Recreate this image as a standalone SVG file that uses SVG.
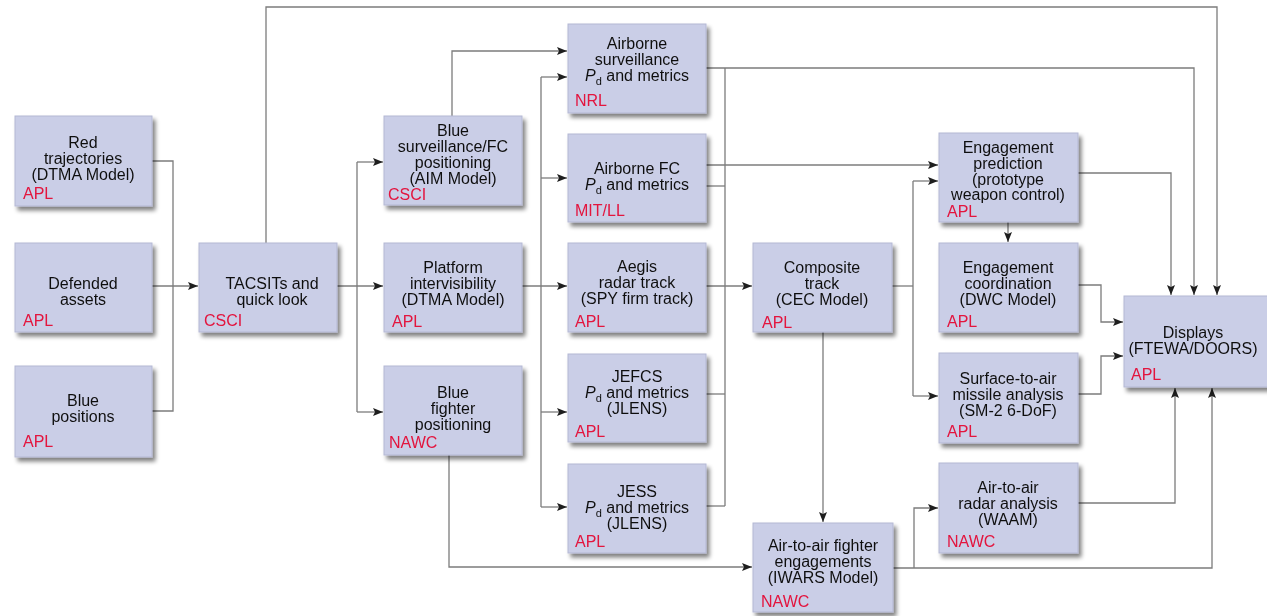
<svg xmlns="http://www.w3.org/2000/svg" width="1267" height="616" viewBox="0 0 1267 616">
<style>
.box{fill:#cacee7;stroke:#b4b8d3;stroke-width:1}
.t{font-family:"Liberation Sans",Arial,sans-serif;font-size:16px;fill:#111;text-anchor:middle}
.o{font-family:"Liberation Sans",Arial,sans-serif;font-size:16px;fill:#e3123d}
.c{fill:none;stroke:#7c7c7c;stroke-width:1.3}
.a{marker-end:url(#ah)}
.sub{font-size:11px}
</style>
<defs>
<filter id="sh" x="-10%" y="-10%" width="125%" height="130%">
<feGaussianBlur in="SourceAlpha" stdDeviation="2"/>
<feOffset dx="3" dy="4" result="b"/>
<feComponentTransfer><feFuncA type="linear" slope="0.5"/></feComponentTransfer>
<feMerge><feMergeNode/><feMergeNode in="SourceGraphic"/></feMerge>
</filter>
<marker id="ah" markerUnits="userSpaceOnUse" markerWidth="11" markerHeight="8" refX="10" refY="4" orient="auto">
<path d="M0,0 L10,4 L0,8 L2,4 z" fill="#1e1e1e"/>
</marker>
</defs>
<rect width="1267" height="616" fill="#ffffff"/>

<g id="connectors">
<path class="c" d="M152 161 H173 V411 H152"/>
<path class="c a" d="M152 286 H198"/>
<path class="c a" d="M266 243 V7 H1217 V295"/>
<path class="c a" d="M337 286 H383"/>
<path class="c" d="M357 162 V412"/>
<path class="c a" d="M357 162 H383"/>
<path class="c a" d="M357 412 H383"/>
<path class="c a" d="M452 116 V51 H567"/>
<path class="c a" d="M522 286 H567"/>
<path class="c" d="M541 77 V507"/>
<path class="c a" d="M541 77 H567"/>
<path class="c a" d="M541 178 H567"/>
<path class="c a" d="M541 412 H567"/>
<path class="c a" d="M541 507 H567"/>
<path class="c a" d="M706 68 H1194 V295"/>
<path class="c" d="M725 68 V506"/>
<path class="c" d="M706 186 H725"/>
<path class="c" d="M706 394 H725"/>
<path class="c" d="M706 506 H725"/>
<path class="c a" d="M706 286 H752"/>
<path class="c a" d="M706 165 H938"/>
<path class="c" d="M892 286 H913"/>
<path class="c" d="M913 181 V396"/>
<path class="c a" d="M913 181 H938"/>
<path class="c a" d="M913 396 H938"/>
<path class="c a" d="M823 332 V522"/>
<path class="c a" d="M1078 173 H1171 V295"/>
<path class="c a" d="M1008 222 V242"/>
<path class="c a" d="M1078 285 H1101 V322 H1123"/>
<path class="c a" d="M1078 394 H1101 V356 H1123"/>
<path class="c a" d="M893 568 H1212 V388"/>
<path class="c a" d="M914 568 V508 H938"/>
<path class="c a" d="M1078 503 H1175 V388"/>
<path class="c a" d="M449 455 V567 H752"/>
</g>

<g id="red-trajectories" filter="url(#sh)">
<rect class="box" x="15" y="116" width="137" height="90"/>
<text class="t" x="83" y="148">Red</text>
<text class="t" x="83" y="164">trajectories</text>
<text class="t" x="83" y="180">(DTMA Model)</text>
<text class="o" x="23" y="199">APL</text>
</g>
<g id="defended-assets" filter="url(#sh)">
<rect class="box" x="15" y="243" width="137" height="89"/>
<text class="t" x="83" y="289">Defended</text>
<text class="t" x="83" y="305">assets</text>
<text class="o" x="23" y="326">APL</text>
</g>
<g id="blue-positions" filter="url(#sh)">
<rect class="box" x="15" y="366" width="137" height="91"/>
<text class="t" x="83" y="406">Blue</text>
<text class="t" x="83" y="422">positions</text>
<text class="o" x="23" y="447">APL</text>
</g>
<g id="tacsits" filter="url(#sh)">
<rect class="box" x="199" y="243" width="138" height="89"/>
<text class="t" x="272" y="289">TACSITs and</text>
<text class="t" x="272" y="305">quick look</text>
<text class="o" x="204" y="326">CSCI</text>
</g>
<g id="blue-surveillance" filter="url(#sh)">
<rect class="box" x="384" y="116" width="138" height="89"/>
<text class="t" x="453" y="136">Blue</text>
<text class="t" x="453" y="152">surveillance/FC</text>
<text class="t" x="453" y="168">positioning</text>
<text class="t" x="453" y="184">(AIM Model)</text>
<text class="o" x="388" y="200">CSCI</text>
</g>
<g id="platform-intervisibility" filter="url(#sh)">
<rect class="box" x="384" y="243" width="138" height="89"/>
<text class="t" x="453" y="273">Platform</text>
<text class="t" x="453" y="289">intervisibility</text>
<text class="t" x="453" y="305">(DTMA Model)</text>
<text class="o" x="392" y="327">APL</text>
</g>
<g id="blue-fighter" filter="url(#sh)">
<rect class="box" x="384" y="366" width="138" height="89"/>
<text class="t" x="453" y="398">Blue</text>
<text class="t" x="453" y="414">fighter</text>
<text class="t" x="453" y="430">positioning</text>
<text class="o" x="389" y="448">NAWC</text>
</g>
<g id="airborne-surveillance" filter="url(#sh)">
<rect class="box" x="568" y="24" width="138" height="89"/>
<text class="t" x="637" y="49">Airborne</text>
<text class="t" x="637" y="65">surveillance</text>
<text class="t" x="637" y="81"><tspan font-style="italic">P</tspan><tspan class="sub" dy="4">d</tspan><tspan dy="-4"> and metrics</tspan></text>
<text class="o" x="575" y="106">NRL</text>
</g>
<g id="airborne-fc" filter="url(#sh)">
<rect class="box" x="568" y="134" width="138" height="88"/>
<text class="t" x="637" y="174">Airborne FC</text>
<text class="t" x="637" y="190"><tspan font-style="italic">P</tspan><tspan class="sub" dy="4">d</tspan><tspan dy="-4"> and metrics</tspan></text>
<text class="o" x="575" y="216">MIT/LL</text>
</g>
<g id="aegis" filter="url(#sh)">
<rect class="box" x="568" y="243" width="138" height="89"/>
<text class="t" x="637" y="272">Aegis</text>
<text class="t" x="637" y="288">radar track</text>
<text class="t" x="637" y="304">(SPY firm track)</text>
<text class="o" x="575" y="327">APL</text>
</g>
<g id="jefcs" filter="url(#sh)">
<rect class="box" x="568" y="354" width="138" height="88"/>
<text class="t" x="637" y="382">JEFCS</text>
<text class="t" x="637" y="398"><tspan font-style="italic">P</tspan><tspan class="sub" dy="4">d</tspan><tspan dy="-4"> and metrics</tspan></text>
<text class="t" x="637" y="414">(JLENS)</text>
<text class="o" x="575" y="437">APL</text>
</g>
<g id="jess" filter="url(#sh)">
<rect class="box" x="568" y="464" width="138" height="89"/>
<text class="t" x="637" y="497">JESS</text>
<text class="t" x="637" y="513"><tspan font-style="italic">P</tspan><tspan class="sub" dy="4">d</tspan><tspan dy="-4"> and metrics</tspan></text>
<text class="t" x="637" y="529">(JLENS)</text>
<text class="o" x="575" y="547">APL</text>
</g>
<g id="composite-track" filter="url(#sh)">
<rect class="box" x="753" y="243" width="139" height="89"/>
<text class="t" x="822" y="273">Composite</text>
<text class="t" x="822" y="289">track</text>
<text class="t" x="822" y="305">(CEC Model)</text>
<text class="o" x="762" y="328">APL</text>
</g>
<g id="air-to-air-fighter" filter="url(#sh)">
<rect class="box" x="753" y="523" width="140" height="89"/>
<text class="t" x="823" y="551">Air-to-air fighter</text>
<text class="t" x="823" y="567">engagements</text>
<text class="t" x="823" y="583">(IWARS Model)</text>
<text class="o" x="761" y="607">NAWC</text>
</g>
<g id="engagement-prediction" filter="url(#sh)">
<rect class="box" x="939" y="133" width="139" height="89"/>
<text class="t" x="1008" y="153">Engagement</text>
<text class="t" x="1008" y="169">prediction</text>
<text class="t" x="1008" y="185">(prototype</text>
<text class="t" x="1008" y="200">weapon control)</text>
<text class="o" x="947" y="217">APL</text>
</g>
<g id="engagement-coordination" filter="url(#sh)">
<rect class="box" x="939" y="243" width="139" height="89"/>
<text class="t" x="1008" y="273">Engagement</text>
<text class="t" x="1008" y="289">coordination</text>
<text class="t" x="1008" y="305">(DWC Model)</text>
<text class="o" x="947" y="327">APL</text>
</g>
<g id="surface-to-air" filter="url(#sh)">
<rect class="box" x="939" y="353" width="139" height="90"/>
<text class="t" x="1008" y="384">Surface-to-air</text>
<text class="t" x="1008" y="400">missile analysis</text>
<text class="t" x="1008" y="416">(SM-2 6-DoF)</text>
<text class="o" x="947" y="437">APL</text>
</g>
<g id="air-to-air-radar" filter="url(#sh)">
<rect class="box" x="939" y="463" width="139" height="90"/>
<text class="t" x="1008" y="493">Air-to-air</text>
<text class="t" x="1008" y="509">radar analysis</text>
<text class="t" x="1008" y="525">(WAAM)</text>
<text class="o" x="947" y="547">NAWC</text>
</g>
<g id="displays" filter="url(#sh)">
<rect class="box" x="1124" y="296" width="146" height="91"/>
<text class="t" x="1193" y="338">Displays</text>
<text class="t" x="1193" y="354">(FTEWA/DOORS)</text>
<text class="o" x="1131" y="380">APL</text>
</g>
</svg>
